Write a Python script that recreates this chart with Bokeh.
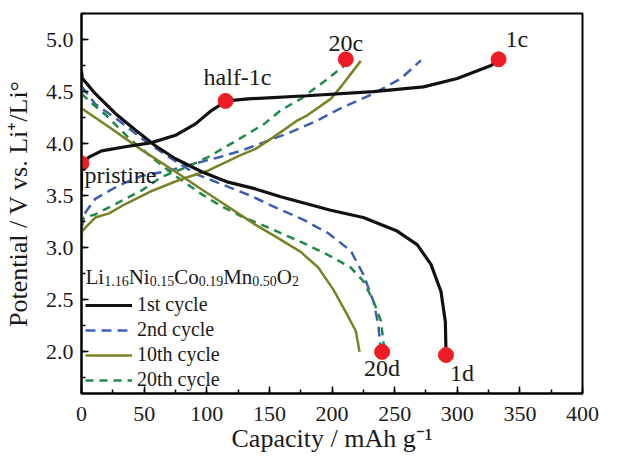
from bokeh.plotting import figure
from bokeh.models import (Range1d, SingleIntervalTicker, Legend, LegendItem, Label,
                          PrintfTickFormatter)
from bokeh.embed import file_html
from bokeh.resources import INLINE

# ---------------- data ----------------
c1_charge_x = [0, 0, 1, 6, 16, 35, 56, 75, 91, 104, 116, 133, 180, 233, 273, 300, 327, 333]
c1_charge_y = [3.55, 3.75, 3.81, 3.87, 3.93, 3.97, 4.01, 4.08, 4.19, 4.32, 4.41, 4.43, 4.46, 4.50, 4.545, 4.625, 4.75, 4.81]
c1_dis_x = [0, 0.5, 11, 27, 43, 59, 75, 96, 117, 139, 159, 199, 225, 252, 268, 279, 287, 290.5, 291]
c1_dis_y = [4.70, 4.63, 4.48, 4.29, 4.13, 3.98, 3.855, 3.73, 3.63, 3.565, 3.49, 3.36, 3.29, 3.16, 3.03, 2.84, 2.58, 2.29, 2.0]

c2_charge_x = [0, 2, 11, 30, 48, 70, 91, 110, 127, 145, 167, 188, 207, 233, 255, 271]
c2_charge_y = [3.18, 3.32, 3.47, 3.60, 3.69, 3.74, 3.81, 3.87, 3.93, 4.01, 4.11, 4.22, 4.34, 4.48, 4.625, 4.80]
c2_dis_x = [0, 11, 30, 48, 70, 91, 112, 135, 156, 177, 197, 215, 225, 233, 237, 239]
c2_dis_y = [4.55, 4.38, 4.22, 4.05, 3.87, 3.71, 3.61, 3.50, 3.38, 3.27, 3.14, 2.97, 2.745, 2.49, 2.26, 2.0]

c10_charge_x = [0, 0.5, 6, 11, 22, 35, 55, 80, 101, 127, 139, 153, 172, 180, 199, 207, 215, 223]
c10_charge_y = [3.05, 3.16, 3.23, 3.29, 3.33, 3.42, 3.54, 3.66, 3.74, 3.89, 3.95, 4.06, 4.22, 4.27, 4.43, 4.545, 4.67, 4.795]
c10_dis_x = [0, 0, 22, 48, 75, 96, 115, 139, 156, 175, 189, 201, 212, 219, 222]
c10_dis_y = [4.48, 4.34, 4.16, 3.94, 3.73, 3.56, 3.41, 3.22, 3.10, 2.96, 2.81, 2.60, 2.36, 2.20, 2.0]

c20_charge_x = [0, 2, 11, 27, 48, 64, 83, 101, 128, 146, 159, 175, 193, 209, 211]
c20_charge_y = [3.22, 3.29, 3.32, 3.42, 3.55, 3.68, 3.77, 3.87, 4.06, 4.19, 4.32, 4.43, 4.59, 4.74, 4.79]
c20_dis_x = [0, 8.5, 20, 38, 59, 75, 94, 110, 128, 146, 164, 180, 197, 215, 225, 233, 239, 242]
c20_dis_y = [4.48, 4.385, 4.27, 4.05, 3.84, 3.69, 3.53, 3.41, 3.30, 3.21, 3.115, 3.03, 2.93, 2.81, 2.68, 2.49, 2.30, 2.0]

marker_x = [0, 115, 211, 333, 240, 291]
marker_y = [3.81, 4.41, 4.81, 4.81, 2.0, 1.97]
marker_labels = ["pristine", "half-1c", "20c", "1c", "20d", "1d"]

series_labels = ["1st cycle", "2nd cycle", "10th cycle", "20th cycle"]
formula_parts = [("Li", False), ("1.16", True), ("Ni", False), ("0.15", True), ("Co", False),
                 ("0.19", True), ("Mn", False), ("0.50", True), ("O", False), ("2", True)]
formula_y = 2.72

# ---------------- styles ----------------
FONT = "Liberation Serif"
TXT = "#1a1a1a"
BLACK = "#111111"
BLUE = "#3d5fb0"
OLIVE = "#7b8226"
GREEN = "#1e8a4a"
RED = "#ee1c25"

p = figure(width=620, height=457, x_range=Range1d(0, 400), y_range=Range1d(1.6, 5.25),
           output_backend="svg", toolbar_location=None,
           min_border_left=81, min_border_right=38, min_border_top=13, min_border_bottom=64)
p.xgrid.visible = False
p.ygrid.visible = False
p.outline_line_color = "black"
p.outline_line_width = 2
p.outline_line_alpha = 1.0
p.background_fill_color = "white"
p.border_fill_color = "white"

p.xaxis.ticker = SingleIntervalTicker(interval=50, num_minor_ticks=2)
p.yaxis.ticker = SingleIntervalTicker(interval=0.5, num_minor_ticks=2)
p.yaxis.formatter = PrintfTickFormatter(format="%.1f")
for ax in (p.xaxis, p.yaxis):
    ax.major_tick_in = 7
    ax.major_tick_out = 0
    ax.minor_tick_in = 4
    ax.minor_tick_out = 0
    ax.axis_line_width = 2
    ax.major_tick_line_width = 1.5
    ax.minor_tick_line_width = 1.5
    ax.major_label_text_font = FONT
    ax.major_label_text_font_size = "22px"
    ax.major_label_text_color = TXT
    ax.axis_label_text_font = FONT
    ax.axis_label_text_font_size = "26px"
    ax.axis_label_text_font_style = "normal"
    ax.axis_label_text_color = TXT
p.xaxis.major_label_standoff = 13
p.xaxis.axis_label_standoff = 0
p.yaxis.major_label_standoff = 8
p.yaxis.axis_label_standoff = 10
p.xaxis.axis_label = "Capacity / mAh g\u207b\u00b9"
p.yaxis.axis_label = "Potential / V vs. Li\u207a/Li\u00b0"

r2a = p.line(c2_charge_x, c2_charge_y, color=BLUE, line_width=2.5, line_dash="10 6")
r2b = p.line(c2_dis_x, c2_dis_y, color=BLUE, line_width=2.5, line_dash="10 6")
r20a = p.line(c20_charge_x, c20_charge_y, color=GREEN, line_width=2.5, line_dash="8 6")
r20b = p.line(c20_dis_x, c20_dis_y, color=GREEN, line_width=2.5, line_dash="8 6")
r10a = p.line(c10_charge_x, c10_charge_y, color=OLIVE, line_width=2.5)
r10b = p.line(c10_dis_x, c10_dis_y, color=OLIVE, line_width=2.5)
r1a = p.line(c1_charge_x, c1_charge_y, color=BLACK, line_width=3.2)
r1b = p.line(c1_dis_x, c1_dis_y, color=BLACK, line_width=3.2)

p.scatter(marker_x, marker_y, size=15, color=RED, line_color=RED)

# annotation labels next to the red dots
label_styles = [
    dict(text_align="left", x_offset=3, y_offset=-12),
    dict(text_align="center", x_offset=12, y_offset=24),
    dict(text_align="center", x_offset=0, y_offset=16),
    dict(text_align="left", x_offset=7, y_offset=20),
    dict(text_align="center", x_offset=0, y_offset=-16),
    dict(text_align="left", x_offset=4, y_offset=-18),
]
for mx, my, txt, st in zip(marker_x, marker_y, marker_labels, label_styles):
    p.add_layout(Label(x=mx, y=my, text=txt, text_baseline="alphabetic",
                       text_font=FONT, text_font_size="24px", text_color=TXT, **st))

legend = Legend(items=[
    LegendItem(label=series_labels[0], renderers=[r1a]),
    LegendItem(label=series_labels[1], renderers=[r2a]),
    LegendItem(label=series_labels[2], renderers=[r10a]),
    LegendItem(label=series_labels[3], renderers=[r20a]),
], location=(4, 2))
legend.background_fill_alpha = 0
legend.border_line_alpha = 0
legend.padding = 0
legend.margin = 0
legend.spacing = 2
legend.glyph_width = 47
legend.glyph_height = 20
legend.label_height = 20
legend.label_standoff = 5
legend.label_text_font = FONT
legend.label_text_font_size = "20px"
legend.label_text_color = TXT
p.add_layout(legend)

# legend title: chemical formula with subscripts
widths = {"L": 0.611, "i": 0.278, "N": 0.722, "C": 0.667, "o": 0.5, "M": 0.889,
          "n": 0.5, "O": 0.722, ".": 0.25}
off = 4.0
for part, is_sub in formula_parts:
    fs = 14 if is_sub else 21
    p.add_layout(Label(x=0, y=formula_y, x_offset=off, y_offset=-4 if is_sub else 0,
                       text=part, text_baseline="alphabetic", text_align="left",
                       text_font=FONT, text_font_size=f"{fs}px", text_color=TXT))
    off += sum(widths.get(ch, 0.5) for ch in part) * fs

open("out.html", "w").write(file_html(p, INLINE))
